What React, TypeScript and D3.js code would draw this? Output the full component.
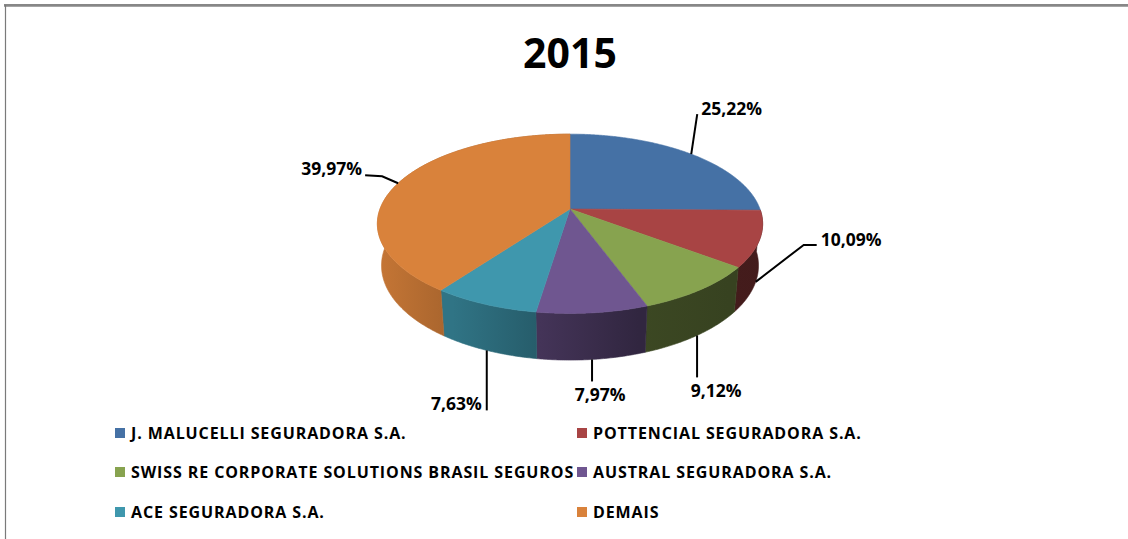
import React from "react";
import * as d3 from "d3";

// ---------- data ----------
const chartTitle = "2015";
const categories = [
  "J. MALUCELLI SEGURADORA S.A.",
  "POTTENCIAL SEGURADORA S.A.",
  "SWISS RE CORPORATE SOLUTIONS BRASIL SEGUROS",
  "AUSTRAL SEGURADORA S.A.",
  "ACE SEGURADORA S.A.",
  "DEMAIS",
];
const shares = [25.22, 10.09, 9.12, 7.97, 7.63, 39.97];

// ---------- style / layout ----------
const W = 1128;
const H = 539;
const colors = ["#4571A5", "#A84444", "#87A34F", "#6F5690", "#3F97AD", "#D9823B"];
const FONT = "'Open Sans', 'DejaVu Sans', sans-serif";

const cx = 570;
const cy = 209;
const k = 190;
const sinA = 0.459;
const cosA = Math.sqrt(1 - sinA * sinA);
const D = 5.39;
const depth = 0.25;

// wall shading as function of normalized horizontal position
const shade = d3
  .scaleLinear<number>()
  .domain([-1, -0.68, -0.18, 0.41, 1])
  .range([0.92, 0.8, 0.62, 0.42, 0.4])
  .clamp(true);

// label leader layout (offsets relative to the slice anchor)
const labelLayout = [
  { pts: [[6, -40]], text: [10, -39], anchor: "start" },
  { pts: [[48, -37], [61, -37]], text: [65, -36], anchor: "start" },
  { pts: [[0, 42]], text: [19, 62], anchor: "middle" },
  { pts: [[0, 22]], text: [8, 42], anchor: "middle" },
  { pts: [[0, 60]], text: [-5, 60], anchor: "end" },
  { pts: [[-16, -7], [-33, -8]], text: [-36, -8], anchor: "end" },
];

const legendCols = [115, 577];
const legendRows = [433, 472, 512];

function project(x: number, y: number, z: number): [number, number] {
  const d = y * cosA + z * sinA;
  const s = 1 / (1 - d / D);
  return [cx + k * x * s, cy + k * (y * sinA - z * cosA) * s];
}
function projAngle(theta: number, z: number, r = 1): [number, number] {
  return project(r * Math.sin(theta), -r * Math.cos(theta), z);
}
function arcPts(a0: number, a1: number, z: number): [number, number][] {
  const n = Math.max(2, Math.ceil(Math.abs(a1 - a0) / (Math.PI / 360)));
  const pts: [number, number][] = [];
  for (let i = 0; i <= n; i++) {
    pts.push(projAngle(a0 + ((a1 - a0) * i) / n, z));
  }
  return pts;
}
const fmt = (v: number) => d3.format(".2f")(v).replace(".", ",") + "%";

export default function App() {
  const arcs = d3.pie<number>().sort(null).value((d) => d)(shares);
  const line = d3.line();

  const walls = arcs.map((a, i) => {
    const top = arcPts(a.startAngle, a.endAngle, 0);
    const bot = arcPts(a.endAngle, a.startAngle, -depth);
    const path = line([...top, ...bot])! + "Z";
    const xs: number[] = [];
    const n = 200;
    for (let j = 0; j <= n; j++) {
      const t = a.startAngle + ((a.endAngle - a.startAngle) * j) / n;
      if (-Math.cos(t) > 0.16) xs.push(Math.sin(t));
    }
    if (!xs.length) return null;
    const x0 = d3.min(xs)!;
    const x1 = d3.max(xs)!;
    const base = d3.rgb(colors[i]);
    const mul = (f: number) =>
      d3.rgb(base.r * f, base.g * f, base.b * f).formatHex();
    return {
      path,
      id: `wall${i}`,
      gx1: cx + k * x0 * 1.05,
      gx2: cx + k * x1 * 1.05,
      c1: mul(shade(x0)),
      c2: mul(shade(x1)),
    };
  });

  const tops = arcs.map((a) => {
    const pts = arcPts(a.startAngle, a.endAngle, 0);
    return line([[cx, cy], ...pts])! + "Z";
  });

  const labels = arcs.map((a, i) => {
    const mid = (a.startAngle + a.endAngle) / 2;
    const front = -Math.cos(mid) > 0;
    const [ax, ay] = projAngle(mid, front ? -depth : 0);
    const L = labelLayout[i];
    const pts: [number, number][] = [[ax, ay], ...L.pts.map((p) => [ax + p[0], ay + p[1]] as [number, number])];
    return {
      path: line(pts)!,
      tx: ax + L.text[0],
      ty: ay + L.text[1],
      anchor: L.anchor,
      text: fmt(shares[i]),
    };
  });

  return (
    <svg
      width={W}
      height={H}
      style={{ position: "absolute", left: 0, top: 0, background: "#fff" }}
      fontFamily={FONT}
    >
      <defs>
        {walls.map((w) =>
          w ? (
            <linearGradient
              key={w.id}
              id={w.id}
              gradientUnits="userSpaceOnUse"
              x1={w.gx1}
              x2={w.gx2}
              y1={0}
              y2={0}
            >
              <stop offset="0" stopColor={w.c1} />
              <stop offset="1" stopColor={w.c2} />
            </linearGradient>
          ) : null
        )}
      </defs>
      <rect x={0} y={0} width={W} height={H} fill="#fff" />
      <line x1={4} x2={W} y1={5.3} y2={5.3} stroke="#878787" strokeWidth={2.7} />
      <line x1={5.5} x2={5.5} y1={5} y2={H} stroke="#7a7a7a" strokeWidth={1.2} />

      <text x={570} y={68} textAnchor="middle" fontSize={41} fontWeight="bold" fill="#000">
        {chartTitle}
      </text>

      {walls.map((w) =>
        w ? <path key={w.id} d={w.path} fill={`url(#${w.id})`} stroke={`url(#${w.id})`} strokeWidth={0.6} /> : null
      )}
      {tops.map((p, i) => (
        <path key={i} d={p} fill={colors[i]} stroke={colors[i]} strokeWidth={0.6} strokeLinejoin="round" />
      ))}

      {labels.map((l, i) => (
        <g key={i}>
          <path d={l.path} fill="none" stroke="#000" strokeWidth={2} />
          <text
            x={l.tx}
            y={l.ty}
            textAnchor={l.anchor as any}
            fontSize={17.5}
            fontWeight="bold"
            fill="#000"
          >
            {l.text}
          </text>
        </g>
      ))}

      {categories.map((c, i) => {
        const x = legendCols[i % 2];
        const y = legendRows[Math.floor(i / 2)];
        return (
          <g key={c}>
            <rect x={x} y={y - 5} width={10} height={10} fill={colors[i]} />
            <text
              x={x + 16}
              y={y}
              dy="0.36em"
              fontSize={16}
              fontWeight="bold"
              letterSpacing={0.9}
              fill="#000"
            >
              {c}
            </text>
          </g>
        );
      })}
    </svg>
  );
}
